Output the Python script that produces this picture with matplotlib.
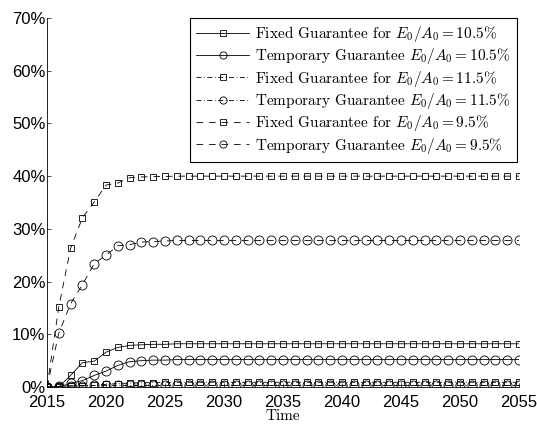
import numpy as np
import matplotlib
matplotlib.use('Agg')
import matplotlib.pyplot as plt
from matplotlib.ticker import FuncFormatter

plt.rcParams['mathtext.fontset'] = 'cm'
plt.rcParams['axes.unicode_minus'] = False

#######################################################
# values (percent)
Years = list(range(2015, 2056))

Fixed_105 = [0, 0.0, 2.2, 4.6, 4.9, 6.6, 7.5, 7.9, 8.0, 8.1, 8.1] + [8.2] * 30
Temp_105  = [0, 0.0, 0.7, 1.2, 2.2, 3.0, 4.1, 4.8, 5.0, 5.1, 5.1] + [5.2] * 30
Fixed_115 = [0, 0.1, 0.2, 0.25, 0.3, 0.5, 0.65, 0.75, 0.8, 0.85, 0.9] + [0.9] * 30
Temp_115  = [0, 0.1, 0.2, 0.25, 0.3, 0.3, 0.3, 0.3, 0.3, 0.3, 0.3] + [0.3] * 30
Fixed_95  = [0, 15.2, 26.3, 32.1, 35.1, 38.3, 38.7, 39.7, 39.85, 39.9, 39.95] + [40.0] * 30
Temp_95   = [0, 10.2, 15.8, 19.4, 23.4, 25.0, 26.8, 27.0, 27.5, 27.6, 27.7] + [27.8] * 30

Labels = [r'Fixed Guarantee for $E_0/A_0 = 10.5\%$',
          r'Temporary Guarantee $E_0/A_0 = 10.5\%$',
          r'Fixed Guarantee for $E_0/A_0 = 11.5\%$',
          r'Temporary Guarantee $E_0/A_0 = 11.5\%$',
          r'Fixed Guarantee for $E_0/A_0 = 9.5\%$',
          r'Temporary Guarantee $E_0/A_0 = 9.5\%$']
#######################################################

Series = [Fixed_105, Temp_105, Fixed_115, Temp_115, Fixed_95, Temp_95]
Styles = ['-', '-', (0, (6, 3, 1, 3)), (0, (6, 3, 1, 3)), (0, (8, 7)), (0, (8, 7))]
Markers = ['s', 'o', 's', 'o', 's', 'o']
Sizes = [5, 6.5, 5, 6.5, 5, 6.5]

fig = plt.figure(figsize=(5.37, 4.25), dpi=100)
ax = fig.add_axes([47/537, 38/425, 472/537, 369/425])

for y, ls, m, ms, lab in zip(Series, Styles, Markers, Sizes, Labels):
    ax.plot(Years, y, color='black', linestyle=ls, linewidth=0.6,
            marker=m, markersize=ms, markerfacecolor='none',
            markeredgecolor='black', markeredgewidth=0.6, label=lab)

ax.set_xlim(2015, 2055)
ax.set_ylim(0, 70)
ax.set_xticks(range(2015, 2056, 5))
ax.set_yticks(range(0, 71, 10))
ax.yaxis.set_major_formatter(FuncFormatter(lambda v, p: '%d%%' % v))
for lab in ax.get_xticklabels() + ax.get_yticklabels():
    lab.set_family('Liberation Sans')
    lab.set_fontsize(12)
ax.tick_params(direction='in', length=3, width=0.5)
ax.tick_params(axis='y', pad=1)
ax.tick_params(axis='x', pad=6)
ax.spines['top'].set_visible(False)
ax.spines['right'].set_visible(False)
ax.spines['left'].set_linewidth(0.6)
ax.spines['bottom'].set_linewidth(0.6)

ax.set_xlabel('Time', family='cmr10', fontsize=11, labelpad=-1)

leg = ax.legend(loc='upper right', bbox_to_anchor=(517/537, 407/425),
                bbox_transform=fig.transFigure, numpoints=1, markerscale=0.8,
                handlelength=3.5, handletextpad=0.4, fancybox=False,
                framealpha=1, edgecolor='black', borderaxespad=0,
                labelspacing=0.15, borderpad=0.4,
                prop={'family': 'cmr10', 'size': 11})
leg.get_frame().set_linewidth(0.8)

plt.savefig('out.png', dpi=100)
